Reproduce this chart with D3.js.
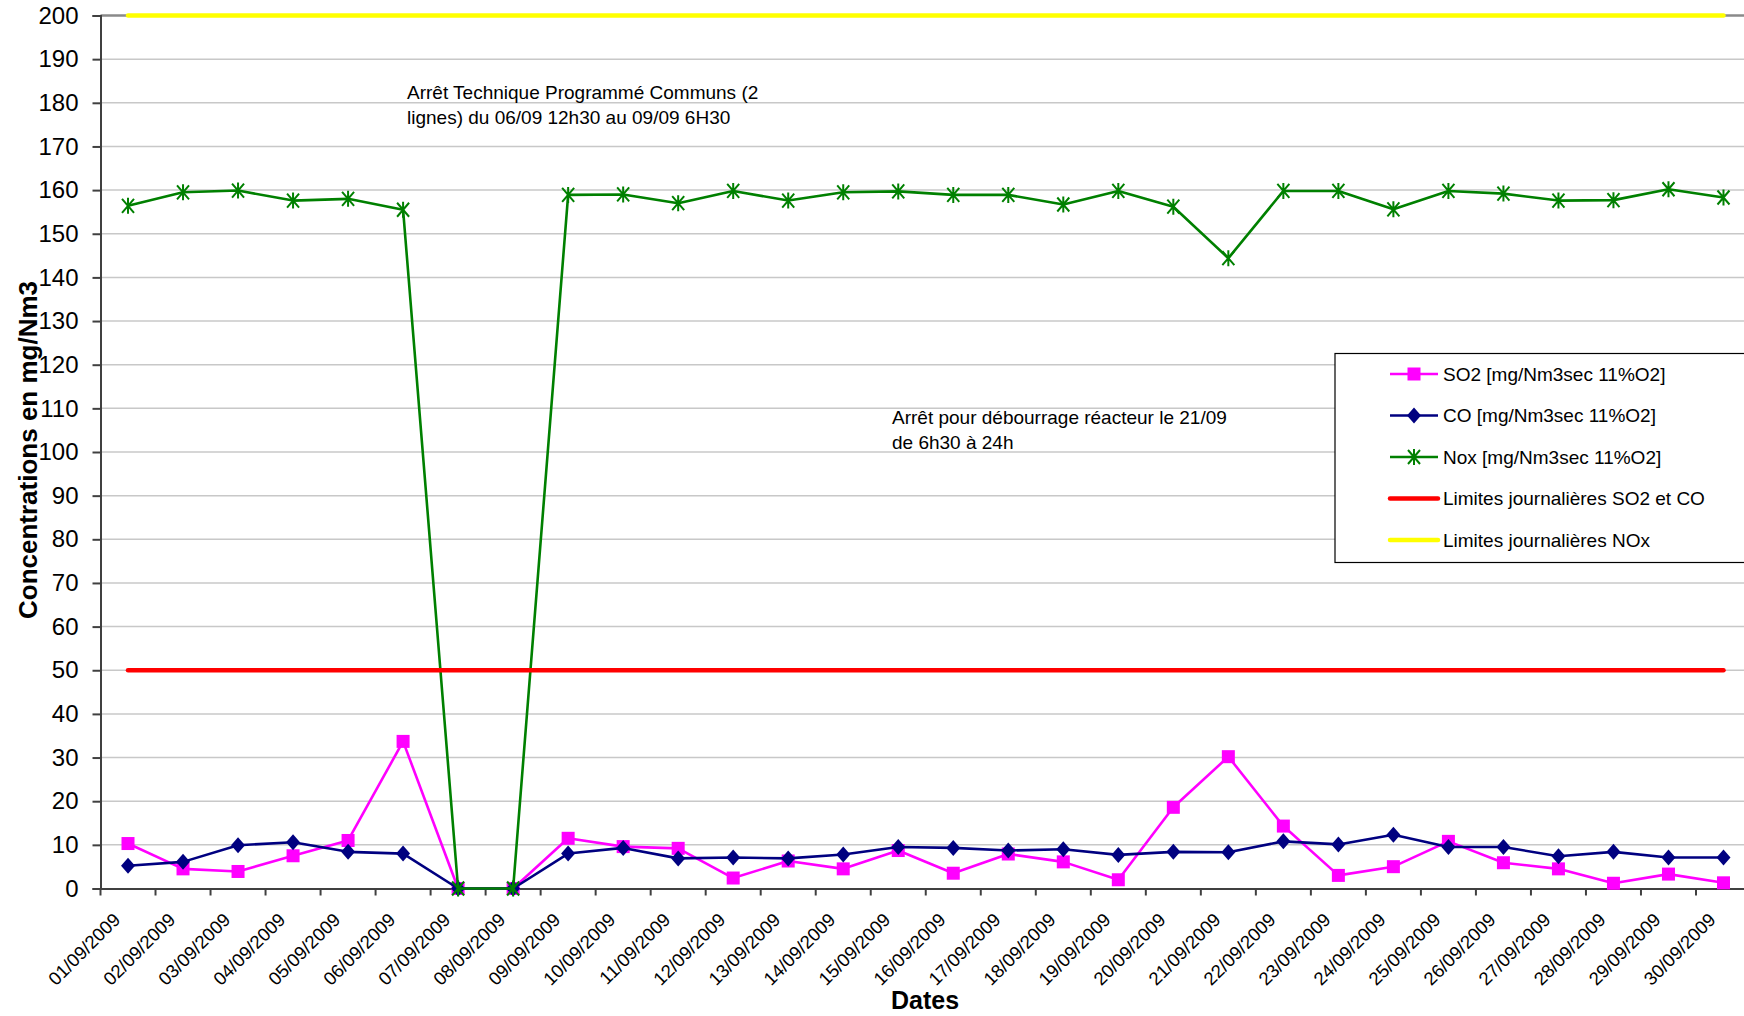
<!DOCTYPE html>
<html><head><meta charset="utf-8">
<script src="https://cdn.jsdelivr.net/npm/d3@7"></script>
<style>
html,body{margin:0;padding:0;background:#fff;}
svg{display:block;font-family:"Liberation Sans",Arial,sans-serif;}
</style></head>
<body>
<svg id="chart" width="1744" height="1016"></svg>
<script>
const dates = ["01/09/2009","02/09/2009","03/09/2009","04/09/2009","05/09/2009","06/09/2009","07/09/2009","08/09/2009","09/09/2009","10/09/2009","11/09/2009","12/09/2009","13/09/2009","14/09/2009","15/09/2009","16/09/2009","17/09/2009","18/09/2009","19/09/2009","20/09/2009","21/09/2009","22/09/2009","23/09/2009","24/09/2009","25/09/2009","26/09/2009","27/09/2009","28/09/2009","29/09/2009","30/09/2009"];
const so2 = [10.3,4.5,3.9,7.5,11.0,33.7,0,0,11.5,9.6,9.2,2.4,6.3,4.5,8.7,3.5,7.9,6.1,2.0,18.6,30.2,14.3,3.0,5.0,10.8,5.9,4.5,1.2,3.3,1.3];
const co = [5.2,6.1,9.9,10.6,8.4,8.0,0,0,8.0,9.3,6.9,7.1,6.9,7.8,9.5,9.3,8.7,9.0,7.7,8.4,8.3,10.8,10.1,12.3,9.5,9.5,7.4,8.4,7.1,7.1];
const nox = [156.4,159.5,159.9,157.6,158.0,155.5,0,0,158.9,159.0,157.0,159.8,157.6,159.5,159.7,158.9,158.9,156.7,159.8,156.2,144.4,159.8,159.8,155.6,159.8,159.2,157.6,157.7,160.2,158.3];
const limitSO2CO = 50;
const limitNOx = 200;
const yTicks = d3.range(0, 201, 10);
const legendLabels = ["SO2 [mg/Nm3sec 11%O2]","CO [mg/Nm3sec 11%O2]","Nox [mg/Nm3sec 11%O2]","Limites journalières SO2 et CO","Limites journalières NOx"];
const note1 = ["Arrêt Technique Programmé Communs (2","lignes) du 06/09 12h30 au 09/09 6H30"];
const note2 = ["Arrêt pour débourrage réacteur le 21/09","de 6h30 à 24h"];

const svg = d3.select("#chart");
const x = d3.scaleBand().domain(dates).range([100.5, 1751]);
const y = d3.scaleLinear().domain([0, 200]).range([888.5, 15.5]);
const cx = d => x(d) + x.bandwidth() / 2;

// gridlines
svg.append("g").selectAll("line").data(yTicks.filter(t => t > 0)).join("line")
  .attr("x1", x.range()[0]).attr("x2", x.range()[1])
  .attr("y1", d => y(d)).attr("y2", d => y(d))
  .attr("stroke", d => d === 200 ? "#8a8a8a" : "#c8c8c8")
  .attr("stroke-width", d => d === 200 ? 2.5 : 1.5);

// y axis
const yAxis = svg.append("g").attr("transform", `translate(${x.range()[0]},0)`)
  .call(d3.axisLeft(y).tickValues(yTicks).tickSize(8).tickPadding(14).tickFormat(d3.format("d")));
yAxis.select(".domain").attr("stroke", "#404040").attr("stroke-width", 2);
yAxis.selectAll(".tick line").attr("stroke", "#404040").attr("stroke-width", 2);
yAxis.selectAll("text").attr("font-size", 24).attr("fill", "#000").attr("font-family", "Liberation Sans, Arial, sans-serif");

// x axis
const xAxis = svg.append("g").attr("transform", `translate(0,${y(0)})`)
  .call(d3.axisBottom(x).tickSize(0).tickPadding(0));
xAxis.select(".domain").attr("stroke", "#404040").attr("stroke-width", 2);
xAxis.selectAll(".tick text")
  .attr("font-size", 18.5).attr("fill", "#000").attr("font-family", "Liberation Sans, Arial, sans-serif")
  .attr("text-anchor", "end").attr("dy", 0).attr("y", 0)
  .attr("transform", "translate(-6.6,32.5) rotate(-45)");
svg.append("g").selectAll("line").data(dates).join("line")
  .attr("x1", d => x(d)).attr("x2", d => x(d))
  .attr("y1", y(0)).attr("y2", y(0) + 7)
  .attr("stroke", "#404040").attr("stroke-width", 2);

// titles
svg.append("text").attr("transform", `translate(28,450) rotate(-90)`)
  .attr("text-anchor", "middle").attr("dominant-baseline", "central")
  .attr("font-size", 26).attr("font-weight", "bold").text("Concentrations en mg/Nm3");
svg.append("text").attr("x", 925).attr("y", 1000).attr("text-anchor", "middle").attr("dominant-baseline", "central")
  .attr("font-size", 25).attr("font-weight", "bold").text("Dates");

// series
const line = d3.line().x((d, i) => cx(dates[i])).y(d => y(d));
function drawSeries(vals, color, marker) {
  const g = svg.append("g");
  g.append("path").datum(vals).attr("d", line).attr("fill", "none").attr("stroke", color).attr("stroke-width", 2.6).attr("stroke-linejoin", "round");
  g.selectAll("g.m").data(vals).join("g").attr("class", "m")
    .attr("transform", (d, i) => `translate(${cx(dates[i])},${y(d)})`)
    .each(function () { marker(d3.select(this), color); });
}
const square = (s, c) => s.append("rect").attr("x", -6.5).attr("y", -6.5).attr("width", 13).attr("height", 13).attr("fill", c);
const diamond = (s, c) => s.append("path").attr("d", "M0,-8L7,0L0,8L-7,0Z").attr("fill", c);
const star = (s, c) => s.append("path").attr("d", "M-6,-7L6,7M-6,7L6,-7M0,-8L0,8").attr("stroke", c).attr("stroke-width", 2).attr("fill", "none");

drawSeries(so2, "#ff00ff", square);
drawSeries(co, "#000080", diamond);
drawSeries(nox, "#008000", star);

// limits
svg.append("line").attr("x1", cx(dates[0])).attr("x2", cx(dates[dates.length - 1]))
  .attr("y1", y(limitSO2CO)).attr("y2", y(limitSO2CO)).attr("stroke", "#ff0000").attr("stroke-width", 4.5).attr("stroke-linecap", "round");
svg.append("line").attr("x1", cx(dates[0])).attr("x2", cx(dates[dates.length - 1]))
  .attr("y1", y(limitNOx)).attr("y2", y(limitNOx)).attr("stroke", "#ffff00").attr("stroke-width", 4.5).attr("stroke-linecap", "round");

// annotations
svg.append("text").attr("font-size", 19).selectAll("tspan").data(note1).join("tspan")
  .attr("x", 407).attr("y", (d, i) => 99 + i * 24.5).text(d => d);
svg.append("text").attr("font-size", 19).selectAll("tspan").data(note2).join("tspan")
  .attr("x", 892).attr("y", (d, i) => 424 + i * 24.5).text(d => d);

// legend
const lg = svg.append("g");
lg.append("rect").attr("x", 1335).attr("y", 353.5).attr("width", 420).attr("height", 209)
  .attr("fill", "#fff").attr("stroke", "#000").attr("stroke-width", 1.2);
const legColors = ["#ff00ff", "#000080", "#008000", "#ff0000", "#ffff00"];
const legMarkers = [square, diamond, star, null, null];
const legY = d3.scalePoint().domain(legendLabels).range([374, 540]);
legendLabels.forEach((lab, i) => {
  const yy = legY(lab);
  lg.append("line").attr("x1", 1390).attr("x2", 1438).attr("y1", yy).attr("y2", yy)
    .attr("stroke", legColors[i]).attr("stroke-width", i >= 3 ? 4.5 : 2.6).attr("stroke-linecap", i >= 3 ? "round" : "butt");
  if (legMarkers[i]) legMarkers[i](lg.append("g").attr("transform", `translate(1414,${yy})`), legColors[i]);
  lg.append("text").attr("x", 1443).attr("y", yy).attr("dominant-baseline", "central").attr("font-size", 19).text(lab);
});
</script>
</body></html>
